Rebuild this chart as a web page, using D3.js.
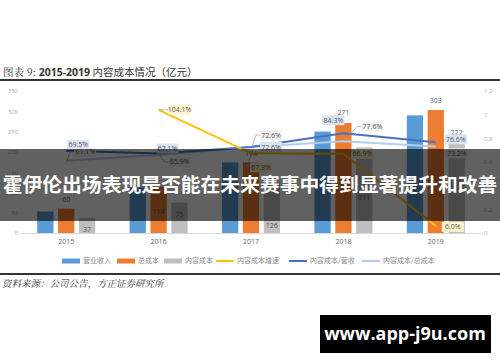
<!DOCTYPE html>
<html>
<head>
<meta charset="utf-8">
<script src="https://cdn.jsdelivr.net/npm/d3@7"></script>
<style>
  body { margin: 0; background: #fff; }
  svg { display: block; font-family: "Noto Sans CJK SC", "Noto Sans", sans-serif; }
</style>
</head>
<body>
<script>
// data
const years = ['2015', '2016', '2017', '2018', '2019']
const revenue = [53, 112, 174, 250, 290]
const totalCost = [60, 114, 174, 271, 303]
const contentCost = [37, 75, 126, 211, 222]
const growth = [null, 1.041, 0.673, 0.669, 0.060]
const costToRevenue = [0.695, 0.671, 0.726, 0.843, 0.766]
const costToTotal = [0.611, 0.659, 0.726, 0.776, 0.732]
const leftTicks = [0, 50, 100, 150, 200, 250, 300, 350]
const rightTicks = [0, 0.2, 0.4, 0.6, 0.8, 1, 1.2]

// label nudges (layout only)
const totalLabelDy = [-9, 25, -9, -11, -10]
const contentLabelDy = [12, 12, 44, 50, -10]

const width = 500
const height = 362

const svg = d3.select('body').append('svg')
  .attr('width', width)
  .attr('height', height)

// title
const title = svg.append('text')
  .attr('x', 3)
  .attr('y', 76)
  .attr('font-size', 10.5)
  .attr('fill', '#333')
title.append('tspan').text('图表 9:  ').attr('font-family', '"Noto Serif CJK SC", "Noto Sans CJK SC"')
title.append('tspan').text('2015-2019').attr('font-weight', 'bold').attr('font-family', '"Open Sans", sans-serif')
title.append('tspan').text(' 内容成本情况（亿元）')

svg.append('line').attr('x1', 0).attr('x2', width).attr('y1', 80).attr('y2', 80)
  .attr('stroke', '#333').attr('stroke-width', 2)

const x0 = d3.scaleBand().domain(years).range([20, 482])
const seriesNames = ['rev', 'total', 'content']
const x1 = d3.scaleBand().domain(seriesNames).range([-29, 29]).paddingInner(0.22)
const yL = d3.scaleLinear().domain([0, 350]).range([233, 91])
const yR = d3.scaleLinear().domain([0, 1.2]).range([233, 91])
const cx = y => x0(y) + x0.bandwidth() / 2

// axes
const leftAxis = svg.append('g')
  .attr('transform', 'translate(18,0)')
  .call(d3.axisLeft(yL).tickValues(leftTicks).tickSize(0).tickPadding(0))
leftAxis.select('.domain').remove()
leftAxis.selectAll('text').attr('fill', '#aaa').attr('font-size', 6).attr('font-family', '"Open Sans", sans-serif')

const rightAxis = svg.append('g')
  .attr('transform', 'translate(484,0)')
  .call(d3.axisRight(yR).tickValues(rightTicks).tickSize(0).tickPadding(0).tickFormat(d3.format('~g')))
rightAxis.select('.domain').remove()
rightAxis.selectAll('text').attr('fill', '#aaa').attr('font-size', 6).attr('font-family', '"Open Sans", sans-serif')

const xAxis = svg.append('g')
  .attr('transform', 'translate(0,233)')
  .call(d3.axisBottom(x0).tickSize(0).tickPadding(6))
xAxis.select('.domain').attr('stroke', '#d9d9d9')
xAxis.selectAll('text').attr('fill', '#666').attr('font-size', 7).attr('font-family', '"Open Sans", sans-serif')

// bars
const barSeries = [
  { key: 'rev', values: revenue, color: '#5b9bd5' },
  { key: 'total', values: totalCost, color: '#ed7d31' },
  { key: 'content', values: contentCost, color: '#bfbfbf' }
]
barSeries.forEach(s => {
  svg.append('g').selectAll('rect')
    .data(s.values)
    .enter()
    .append('rect')
    .attr('x', (d, i) => cx(years[i]) + x1(s.key))
    .attr('y', d => yL(d))
    .attr('width', x1.bandwidth())
    .attr('height', d => yL(0) - yL(d))
    .attr('fill', s.color)
})

// bar labels
const barText = (vals, key, dys) => {
  svg.append('g').selectAll('text')
    .data(vals)
    .enter()
    .append('text')
    .attr('x', (d, i) => cx(years[i]) + x1(key) + x1.bandwidth() / 2)
    .attr('y', (d, i) => yL(d) + dys[i])
    .attr('dy', '0.35em')
    .attr('text-anchor', 'middle')
    .attr('font-size', 7)
    .attr('fill', '#595959')
    .attr('font-family', '"Open Sans", sans-serif')
    .text(d => d)
}
barText(totalCost, 'total', totalLabelDy)
barText(contentCost, 'content', contentLabelDy)

// lines
const lineSeries = [
  { values: costToTotal, color: '#b4cbea', box: '#f2f2f2',
    dx: [19, 21, 20, 29, 21], dy: [-9, 7, -12, -15, 7], leader: [1, 1, 1, 1, 0] },
  { values: costToRevenue, color: '#4472c4', box: '#dae3f3',
    dx: [12, 9, 20, -10, 20], dy: [-6, -5, 0, -13, -3], leader: [0, 0, 0, 0, 0] },
  { values: growth, color: '#ffc000', box: '#fff2cc',
    dx: [0, 21, 10, 19, 17], dy: [0, 0, 14, 0, 1], leader: [0, 1, 1, 0, 0] }
]
const line = d3.line()
  .defined(d => d.v != null)
  .x(d => cx(d.year))
  .y(d => yR(d.v))

lineSeries.forEach(s => {
  const pts = s.values.map((v, i) => ({ year: years[i], v: v, i: i }))
  svg.append('path')
    .datum(pts)
    .attr('d', line)
    .attr('fill', 'none')
    .attr('stroke', s.color)
    .attr('stroke-width', 2)
})

lineSeries.forEach(s => {
  const pts = s.values.map((v, i) => ({ year: years[i], v: v, i: i })).filter(d => d.v != null)
  const g = svg.append('g').selectAll('g')
    .data(pts)
    .enter()
    .append('g')
  g.filter(d => s.leader[d.i])
    .append('polyline')
    .attr('points', d => {
      const px = cx(d.year), py = yR(d.v)
      const lx = px + s.dx[d.i] - 11, ly = py + s.dy[d.i]
      return [[px + 1, py], [lx - 4, ly], [lx, ly]].map(p => p.join(',')).join(' ')
    })
    .attr('fill', 'none')
    .attr('stroke', '#999')
    .attr('stroke-width', 0.7)
  g.append('rect')
    .attr('x', d => cx(d.year) + s.dx[d.i] - 11)
    .attr('y', d => yR(d.v) + s.dy[d.i] - 5)
    .attr('width', 22)
    .attr('height', 10)
    .attr('fill', s.box)
  g.append('text')
    .attr('x', d => cx(d.year) + s.dx[d.i])
    .attr('y', d => yR(d.v) + s.dy[d.i])
    .attr('dy', '0.35em')
    .attr('text-anchor', 'middle')
    .attr('font-size', 7)
    .attr('fill', '#595959')
    .attr('font-family', '"Open Sans", sans-serif')
    .text(d => d3.format('.1%')(d.v))
})

// legend
const legendItems = [
  { name: '营业收入', color: '#5b9bd5', type: 'bar', x: 62 },
  { name: '总成本', color: '#ed7d31', type: 'bar', x: 117 },
  { name: '内容成本', color: '#bfbfbf', type: 'bar', x: 164 },
  { name: '内容成本增速', color: '#ffc000', type: 'line', x: 216 },
  { name: '内容成本/营收', color: '#4472c4', type: 'line', x: 289 },
  { name: '内容成本/总成本', color: '#b4cbea', type: 'line', x: 362 }
]
const legend = svg.append('g').selectAll('g')
  .data(legendItems)
  .enter()
  .append('g')
  .attr('transform', d => 'translate(' + d.x + ',261)')
legend.append('rect')
  .attr('x', 0)
  .attr('y', d => d.type === 'bar' ? -2.5 : -1)
  .attr('width', 18)
  .attr('height', d => d.type === 'bar' ? 5 : 2)
  .attr('fill', d => d.color)
legend.append('text')
  .attr('x', 21)
  .attr('dy', '0.35em')
  .attr('font-size', 7)
  .attr('fill', '#888')
  .text(d => d.name)

svg.append('line').attr('x1', 0).attr('x2', width).attr('y1', 274).attr('y2', 274)
  .attr('stroke', '#333').attr('stroke-width', 2)

svg.append('text')
  .attr('x', 2)
  .attr('y', 287)
  .attr('font-size', 9.5)
  .attr('font-style', 'italic')
  .attr('fill', '#333')
  .attr('font-family', '"Noto Serif CJK SC", "Noto Sans CJK SC"')
  .text('资料来源：公司公告，方正证券研究所')

// overlay banner
svg.append('rect')
  .attr('x', 0).attr('y', 149)
  .attr('width', width).attr('height', 72)
  .attr('fill', 'rgba(0,0,0,0.62)')
svg.append('text')
  .attr('x', width / 2)
  .attr('y', 185)
  .attr('dy', '0.36em')
  .attr('text-anchor', 'middle')
  .attr('font-size', 19.8)
  .attr('font-weight', 'bold')
  .attr('fill', '#fff')
  .text('霍伊伦出场表现是否能在未来赛事中得到显著提升和改善')

// watermark
svg.append('rect')
  .attr('x', 320).attr('y', 315)
  .attr('width', 171).attr('height', 38)
  .attr('fill', '#000')
svg.append('text')
  .attr('x', 405)
  .attr('y', 334)
  .attr('dy', '0.35em')
  .attr('text-anchor', 'middle')
  .attr('font-size', 18)
  .attr('font-weight', 'bold')
  .attr('fill', '#fff')
  .attr('font-family', '"Open Sans", sans-serif')
  .text('www.app-j9u.com')
</script>
</body>
</html>
